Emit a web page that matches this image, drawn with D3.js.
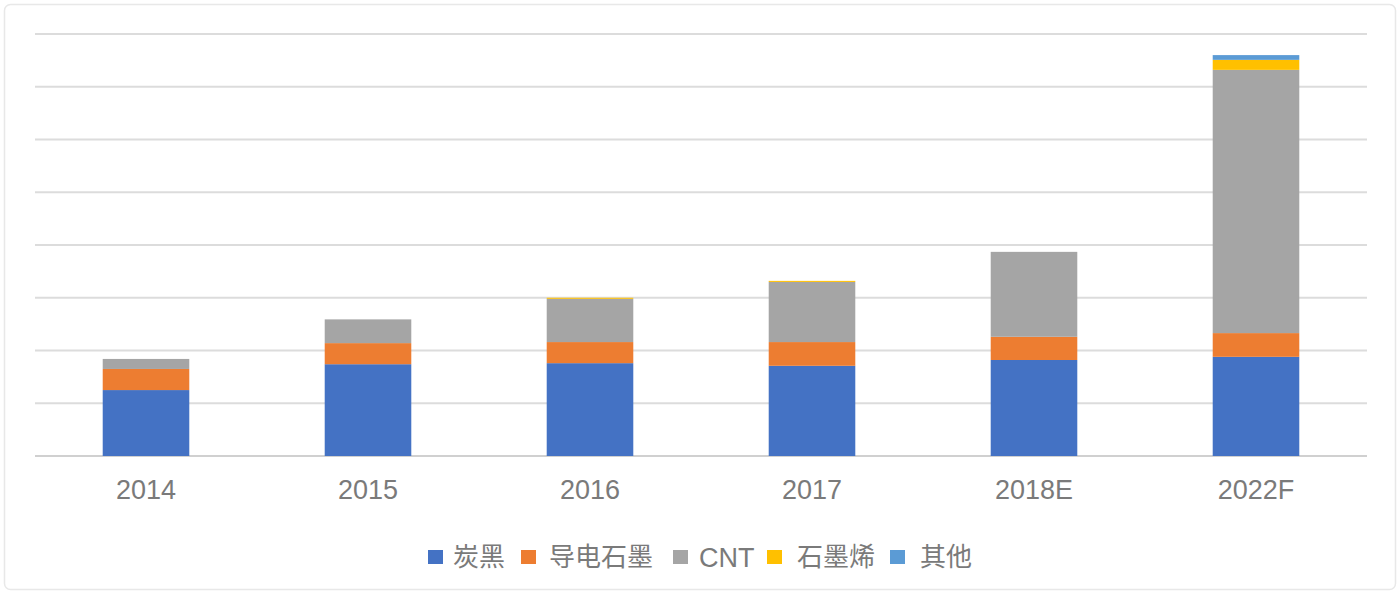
<!DOCTYPE html>
<html><head><meta charset="utf-8">
<script src="https://cdn.jsdelivr.net/npm/d3@7"></script>
<style>
html,body{margin:0;padding:0;background:#fff;}
svg{display:block;}
</style></head>
<body>
<svg id="c" width="1400" height="594"></svg>
<script>
const categories = ["2014","2015","2016","2017","2018E","2022F"];
const seriesNames = ["炭黑","导电石墨","CNT","石墨烯","其他"];
const carbonBlack = [1.25,1.74,1.76,1.71,1.82,1.88];
const graphite    = [0.40,0.40,0.40,0.45,0.44,0.45];
const cnt         = [0.19,0.45,0.82,1.14,1.61,4.99];
const graphene    = [0.00,0.00,0.02,0.02,0.00,0.19];
const others      = [0.00,0.00,0.00,0.00,0.00,0.09];
const yTicks = [0,1,2,3,4,5,6,7,8];
const colors = ["#4472C4","#ED7D31","#A5A5A5","#FFC000","#5B9BD5"];

(function(){
const seriesVals = [carbonBlack, graphite, cnt, graphene, others];
const table = categories.map((c,i)=>{
  const o = {cat:c};
  seriesNames.forEach((s,j)=>o[s]=seriesVals[j][i]);
  return o;
});

const svg = d3.select("#c");
svg.append("rect").attr("x",4.5).attr("y",4.5).attr("width",1391).attr("height",585)
  .attr("rx",6).attr("fill","#fff").attr("stroke","#e8e8e8").attr("stroke-width",1.5);

const pLeft=35, pRight=1367, pTop=34, pBottom=456;
const x = d3.scaleBand().domain(categories).range([pLeft,pRight]).paddingInner(0.61).paddingOuter(0.305);
const y = d3.scaleLinear().domain([0,8]).range([pBottom,pTop]);

svg.append("g").selectAll("line").data(yTicks).join("line")
  .attr("x1",pLeft).attr("x2",pRight)
  .attr("y1",d=>y(d)).attr("y2",d=>y(d))
  .attr("stroke",d=>d===0?"#d0d0d0":"#dcdcdc").attr("stroke-width",2);

const stack = d3.stack().keys(seriesNames)(table);
svg.append("g").selectAll("g").data(stack).join("g")
  .attr("fill",(d,i)=>colors[i])
  .selectAll("rect").data(d=>d).join("rect")
  .attr("x",d=>x(d.data.cat))
  .attr("width",x.bandwidth())
  .attr("y",d=>y(d[1]))
  .attr("height",d=>Math.max(0,y(d[0])-y(d[1])));

const xAxis = svg.append("g").attr("transform",`translate(0,${pBottom})`)
  .call(d3.axisBottom(x).tickSize(0).tickPadding(24));
xAxis.select(".domain").remove();
xAxis.selectAll("text").attr("font-family","'Liberation Sans', Arial, sans-serif")
  .attr("font-size",27).attr("fill","#7a7a7a");

const legend = svg.append("g").attr("font-family","'Noto Sans CJK SC','Liberation Sans',sans-serif")
  .attr("font-size",26).attr("fill","#7a7a7a");
const legSq = [428,521,673,767,890];
const legTx = [453,549,699,797,920];
seriesNames.forEach((s,i)=>{
  const g = legend.append("g").attr("transform",`translate(0,557)`);
  g.append("rect").attr("x",legSq[i]).attr("y",-7).attr("width",15).attr("height",14).attr("fill",colors[i]);
  g.append("text").attr("x",legTx[i]).attr("y",0).attr("dy","0.36em").text(s)
    .attr("font-family", s==="CNT" ? "'Liberation Sans',Arial,sans-serif" : null)
    .attr("font-size", s==="CNT" ? 27 : null);
});
})();
</script>
</body></html>
